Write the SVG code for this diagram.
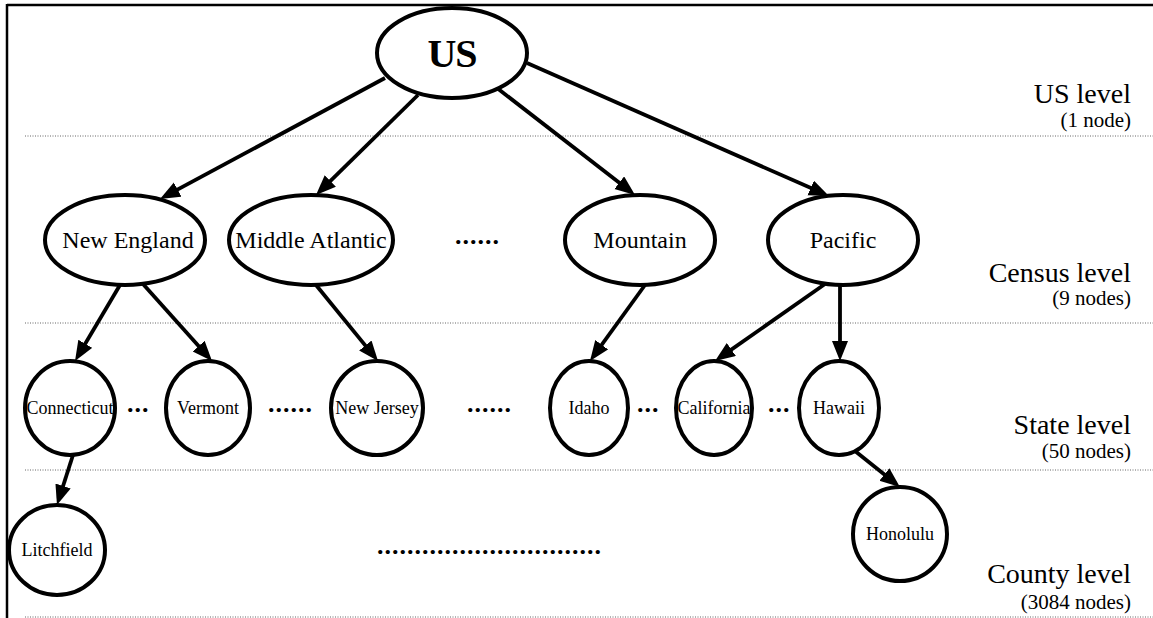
<svg xmlns="http://www.w3.org/2000/svg" width="1153" height="618" viewBox="0 0 1153 618">
<defs>
<marker id="ah" markerUnits="userSpaceOnUse" markerWidth="22" markerHeight="18" refX="14" refY="8" orient="auto"><path d="M0,0 L20,8 L0,16 z" fill="#000"/></marker>
<style>
.nd{fill:#fff;stroke:#000;stroke-width:4}
.t{font-family:"Liberation Serif","Times New Roman",serif;fill:#000;text-anchor:middle}
.c{font-size:24px}
.s{font-size:18px}
.dots{font-family:"Liberation Serif",serif;font-weight:bold;font-size:26px;letter-spacing:1px;fill:#000}
.lv{font-family:"Liberation Serif",serif;font-size:28px;text-anchor:end;fill:#000}
.lvs{font-family:"Liberation Serif",serif;font-size:21px;text-anchor:end;fill:#000}
.sep{stroke:#666;stroke-width:1;stroke-dasharray:1 1.5;fill:none}
.cn{stroke:#000;stroke-width:3.8;fill:none;marker-end:url(#ah)}
</style>
</defs>
<rect width="1153" height="618" fill="#fff"/>
<g id="frame" stroke="#000" stroke-width="2.5" fill="none">
<line x1="7" y1="5" x2="1153" y2="5"/>
<line x1="7" y1="4" x2="7" y2="618"/>
</g>
<g id="separators">
<line class="sep" x1="25" y1="136" x2="1153" y2="136"/>
<line class="sep" x1="25" y1="323" x2="1153" y2="323"/>
<line class="sep" x1="25" y1="470" x2="1153" y2="470"/>
<line class="sep" x1="25" y1="617" x2="1153" y2="617"/>
</g>
<g id="level-labels">
<text class="lv" x="1131" y="103">US level</text>
<text class="lvs" x="1131" y="127">(1 node)</text>
<text class="lv" x="1131" y="282">Census level</text>
<text class="lvs" x="1131" y="305">(9 nodes)</text>
<text class="lv" x="1131" y="434">State level</text>
<text class="lvs" x="1131" y="458">(50 nodes)</text>
<text class="lv" x="1131" y="583">County level</text>
<text class="lvs" x="1131" y="609">(3084 nodes)</text>
</g>
<g id="connectors">
<path class="cn" d="M385,78 L165.3,196.2"/>
<path class="cn" d="M418,95 L320.3,190.8"/>
<path class="cn" d="M497,88 L630.3,191.3"/>
<path class="cn" d="M527,63 L823.5,193.6"/>
<path class="cn" d="M120,285 L78.1,355.8"/>
<path class="cn" d="M143,284 L208,356.5"/>
<path class="cn" d="M316,285 L374.2,356.4"/>
<path class="cn" d="M645,285 L593.5,356.1"/>
<path class="cn" d="M825,284 L719.9,357.6"/>
<path class="cn" d="M840,285 L840,355"/>
<path class="cn" d="M73,455 L58.8,499.3"/>
<path class="cn" d="M855,451 L895.3,483.3"/>
</g>
<g id="n-us"><ellipse class="nd" cx="452" cy="53" rx="75" ry="45"/><text class="t" x="452" y="67" font-size="40" font-weight="bold" letter-spacing="-1">US</text></g>
<g id="n-newengland"><ellipse class="nd" cx="125" cy="240" rx="80" ry="45"/><text class="t c" x="128" y="248">New England</text></g>
<g id="n-midatlantic"><ellipse class="nd" cx="311" cy="240" rx="82" ry="45"/><text class="t c" x="311" y="248">Middle Atlantic</text></g>
<g id="n-mountain"><ellipse class="nd" cx="640" cy="240" rx="75" ry="45"/><text class="t c" x="640" y="248">Mountain</text></g>
<g id="n-pacific"><ellipse class="nd" cx="843" cy="240" rx="75" ry="45"/><text class="t c" x="843" y="248">Pacific</text></g>
<g id="n-connecticut"><ellipse class="nd" cx="70" cy="408" rx="45" ry="47"/><text class="t s" x="70" y="414">Connecticut</text></g>
<g id="n-vermont"><ellipse class="nd" cx="208" cy="408" rx="42" ry="47"/><text class="t s" x="208" y="414">Vermont</text></g>
<g id="n-newjersey"><ellipse class="nd" cx="377" cy="408" rx="46" ry="47"/><text class="t s" x="377" y="414">New Jersey</text></g>
<g id="n-idaho"><ellipse class="nd" cx="589" cy="408" rx="39" ry="47"/><text class="t s" x="589" y="414">Idaho</text></g>
<g id="n-california"><ellipse class="nd" cx="714" cy="408" rx="38" ry="47"/><text class="t s" x="714" y="414">California</text></g>
<g id="n-hawaii"><ellipse class="nd" cx="839" cy="408" rx="40" ry="47"/><text class="t s" x="839" y="414">Hawaii</text></g>
<g id="n-litchfield"><ellipse class="nd" cx="57" cy="550" rx="48" ry="45"/><text class="t s" x="57" y="556">Litchfield</text></g>
<g id="n-honolulu"><ellipse class="nd" cx="900" cy="534" rx="47" ry="47"/><text class="t s" x="900" y="540">Honolulu</text></g>
<g id="ellipses">
<text class="dots" x="455" y="244">......</text>
<text class="dots" x="127" y="412">...</text>
<text class="dots" x="268" y="412">......</text>
<text class="dots" x="467" y="412">......</text>
<text class="dots" x="637" y="412">...</text>
<text class="dots" x="768" y="412">...</text>
<text class="dots" x="377" y="554">..............................</text>
</g>
</svg>
